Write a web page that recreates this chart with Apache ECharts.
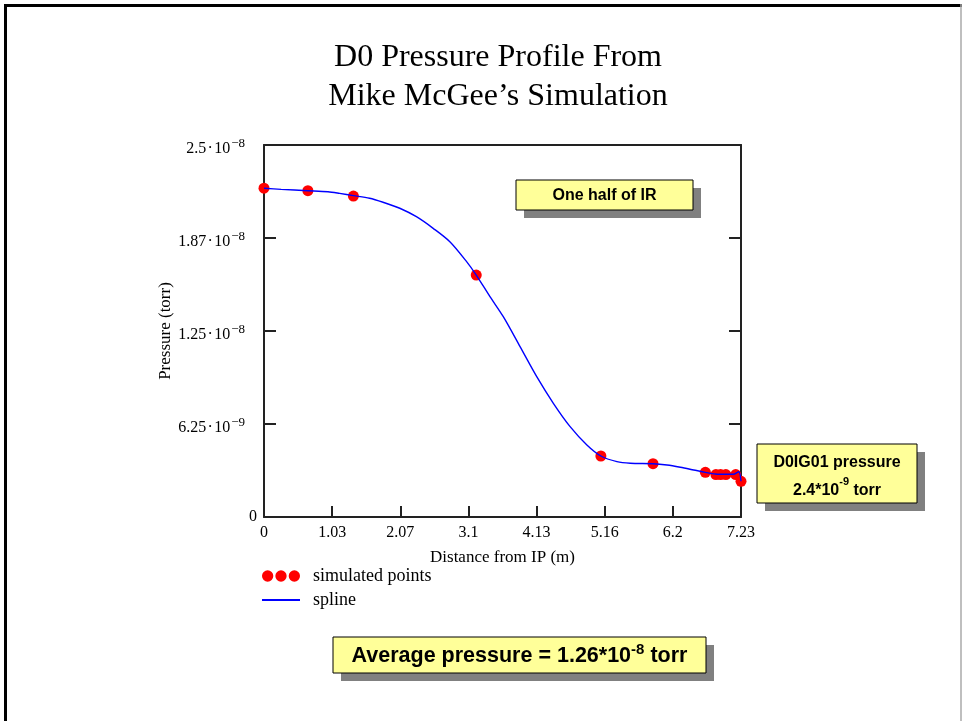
<!DOCTYPE html>
<html>
<head>
    <meta charset="utf-8">
    <title>D0 Pressure Profile</title>
    <script src="https://cdn.jsdelivr.net/npm/echarts@6.0.0/dist/echarts.min.js"></script>
    <style>
        html, body { margin: 0; padding: 0; background: #fff; }
        #chartContainer { width: 962px; height: 721px; }
    </style>
</head>
<body>
    <div id="chartContainer"></div>
    <script>
        // pressure values are in units of 1e-9 torr
        const simX = [0, 0.665, 1.355, 3.217, 5.106, 5.896, 6.69, 6.85, 6.92, 7.0, 7.15, 7.23];
        const simY = [22.1, 21.93, 21.57, 16.26, 4.10, 3.58, 3.0, 2.85, 2.85, 2.85, 2.85, 2.4];

        // spline
        const splineX = [0, 0.26, 0.665, 0.97, 1.147, 1.355, 1.60, 1.805, 2.058, 2.31, 2.564, 2.817, 3.071, 3.217,
            3.425, 3.627, 3.881, 4.134, 4.386, 4.64, 4.894, 5.106, 5.349, 5.551, 5.896, 6.109, 6.311, 6.513,
            6.69, 6.842, 6.994, 7.12, 7.196, 7.23];
        const splineY = [22.09, 22.02, 21.93, 21.86, 21.75, 21.6, 21.42, 21.15, 20.75, 20.18, 19.40, 18.50, 17.16, 16.26,
            14.81, 13.46, 11.45, 9.43, 7.64, 6.07, 4.84, 4.10, 3.72, 3.61, 3.58, 3.49, 3.34, 3.16,
            3.00, 2.89, 2.87, 2.87, 3.04, 2.4];

        // tick labels
        const xTickLabels = ['0', '1.03', '2.07', '3.1', '4.13', '5.16', '6.2', '7.23'];
        const yTickLabels = [['0', ''], ['6.25\u200a\u00b7\u200a10', '\u22129'], ['1.25\u200a\u00b7\u200a10', '\u22128'],
            ['1.87\u200a\u00b7\u200a10', '\u22128'], ['2.5\u200a\u00b7\u200a10', '\u22128']];

        const xMax = 7.23;
        const xStep = xMax / 7;
        const yStep = 6.25;
        const serif = '"Liberation Serif", "DejaVu Serif", serif';
        const sans = '"Liberation Sans", Arial, sans-serif';

        const chart = echarts.init(document.getElementById('chartContainer'));

        // yellow note box with grey drop shadow
        function noteBox(x, y, w, h, text, fontSize, lineHeight, dy) {
            return {
                type: 'group',
                children: [
                    { type: 'rect', shape: { x: x + 8, y: y + 8, width: w, height: h }, style: { fill: '#808080' } },
                    { type: 'rect', shape: { x: x, y: y, width: w, height: h }, style: { fill: '#ffff99', stroke: '#000', lineWidth: 1 } },
                    {
                        type: 'text',
                        style: {
                            x: x + w / 2, y: y + h / 2 + dy, align: 'center', verticalAlign: 'middle',
                            text: text,
                            rich: {
                                b: { fontFamily: sans, fontWeight: 'bold', fontSize: fontSize, lineHeight: lineHeight, fill: '#000' },
                                s: { fontFamily: sans, fontWeight: 'bold', fontSize: Math.round(fontSize * 0.7), lineHeight: lineHeight * 0.45, verticalAlign: 'top', fill: '#000' }
                            }
                        }
                    }
                ]
            };
        }

        const dotsIcon = 'path://M0,5.5A5.5,5.5,0,1,0,11,5.5A5.5,5.5,0,1,0,0,5.5Z' +
            'M13,5.5A5.5,5.5,0,1,0,24,5.5A5.5,5.5,0,1,0,13,5.5Z' +
            'M26,5.5A5.5,5.5,0,1,0,37,5.5A5.5,5.5,0,1,0,26,5.5Z';

        const axisLine = { show: true, onZero: false, lineStyle: { color: '#222', width: 2 } };
        const axisTick = { show: true, inside: true, length: 11, lineStyle: { color: '#222', width: 2 } };

        const option = {
            backgroundColor: '#fff',
            animation: false,
            title: {
                text: 'D0 Pressure Profile From\nMike McGee\u2019s Simulation',
                left: 493,
                top: 33,
                textAlign: 'center',
                textStyle: { fontFamily: serif, fontSize: 32, fontWeight: 'normal', lineHeight: 39, color: '#000' }
            },
            grid: { left: 264, right: 221, top: 145, bottom: 204 },
            legend: {
                orient: 'vertical',
                left: 262,
                top: 567,
                padding: 0,
                itemWidth: 38,
                itemHeight: 12,
                itemGap: 6,
                textStyle: { fontFamily: serif, fontSize: 18, color: '#000', lineHeight: 16, padding: [0, 0, 0, 8] },
                data: [
                    { name: 'simulated points', icon: dotsIcon },
                    { name: 'spline', icon: 'path://M0,0H38V2H0Z' }
                ]
            },
            xAxis: [{
                type: 'value',
                min: 0,
                max: xMax,
                interval: xStep,
                name: 'Distance from IP (m)',
                nameLocation: 'middle',
                nameGap: 32,
                nameTextStyle: { fontFamily: serif, fontSize: 17, color: '#000' },
                axisLine: axisLine,
                axisTick: axisTick,
                axisLabel: {
                    fontFamily: serif, fontSize: 16, color: '#000', margin: 8,
                    formatter: v => xTickLabels[Math.round(v / xStep)]
                },
                splitLine: { show: false }
            }, {
                type: 'value',
                position: 'top',
                min: 0,
                max: xMax,
                interval: xStep,
                axisLine: axisLine,
                axisTick: { show: false },
                axisLabel: { show: false },
                splitLine: { show: false }
            }],
            yAxis: [{
                type: 'value',
                min: 0,
                max: 25,
                interval: yStep,
                name: 'Pressure (torr)',
                nameLocation: 'middle',
                nameGap: 90,
                nameTextStyle: { fontFamily: serif, fontSize: 17, color: '#000' },
                axisLine: axisLine,
                axisTick: Object.assign({}, axisTick, { length: 12 }),
                axisLabel: {
                    margin: 7,
                    formatter: v => {
                        const t = yTickLabels[Math.round(v / yStep)];
                        return t[1] ? '{n|' + t[0] + '}{s|' + t[1] + '}' : '{z|' + t[0] + '}';
                    },
                    rich: {
                        n: { fontFamily: serif, fontSize: 16, color: '#000', lineHeight: 16, padding: [8, 0, 0, 0] },
                        s: { fontFamily: serif, fontSize: 13, color: '#000', lineHeight: 8, verticalAlign: 'top', padding: [0, 12, 0, 1] },
                        z: { fontFamily: serif, fontSize: 16, color: '#000', lineHeight: 16 }
                    }
                },
                splitLine: { show: false }
            }, {
                type: 'value',
                position: 'right',
                min: 0,
                max: 25,
                interval: yStep,
                axisLine: axisLine,
                axisTick: Object.assign({}, axisTick, { length: 12 }),
                axisLabel: { show: false },
                splitLine: { show: false }
            }],
            series: [{
                name: 'simulated points',
                type: 'scatter',
                symbol: 'circle',
                symbolSize: 11,
                itemStyle: { color: '#ff0000', opacity: 1 },
                data: simX.map((x, i) => [x, simY[i]]),
                z: 2
            }, {
                name: 'spline',
                type: 'line',
                smooth: 0.3,
                showSymbol: false,
                lineStyle: { color: '#0000ff', width: 1.4 },
                itemStyle: { color: '#0000ff' },
                data: splineX.map((x, i) => [x, splineY[i]]),
                z: 3
            }],
            graphic: [
                // page frame
                { type: 'line', shape: { x1: 4, y1: 5.5, x2: 962, y2: 5.5 }, style: { stroke: '#000', lineWidth: 3 } },
                { type: 'line', shape: { x1: 5.5, y1: 4, x2: 5.5, y2: 721 }, style: { stroke: '#000', lineWidth: 3 } },
                { type: 'line', shape: { x1: 961, y1: 4, x2: 961, y2: 721 }, style: { stroke: '#aaa', lineWidth: 1.5 } },
                noteBox(516, 180, 177, 30, '{b|One half of IR}', 16, 20, 1),
                noteBox(757, 444, 160, 59, '{b|D0IG01 pressure}\n{b|2.4*10}{s|-9}{b| torr}', 16, 28, 3),
                noteBox(333, 637, 373, 36, '{b|Average pressure = 1.26*10}{s|-8}{b| torr}', 21.5, 28, 1)
            ]
        };

        chart.setOption(option);
        window.addEventListener('resize', () => chart.resize());
    </script>
</body>
</html>
